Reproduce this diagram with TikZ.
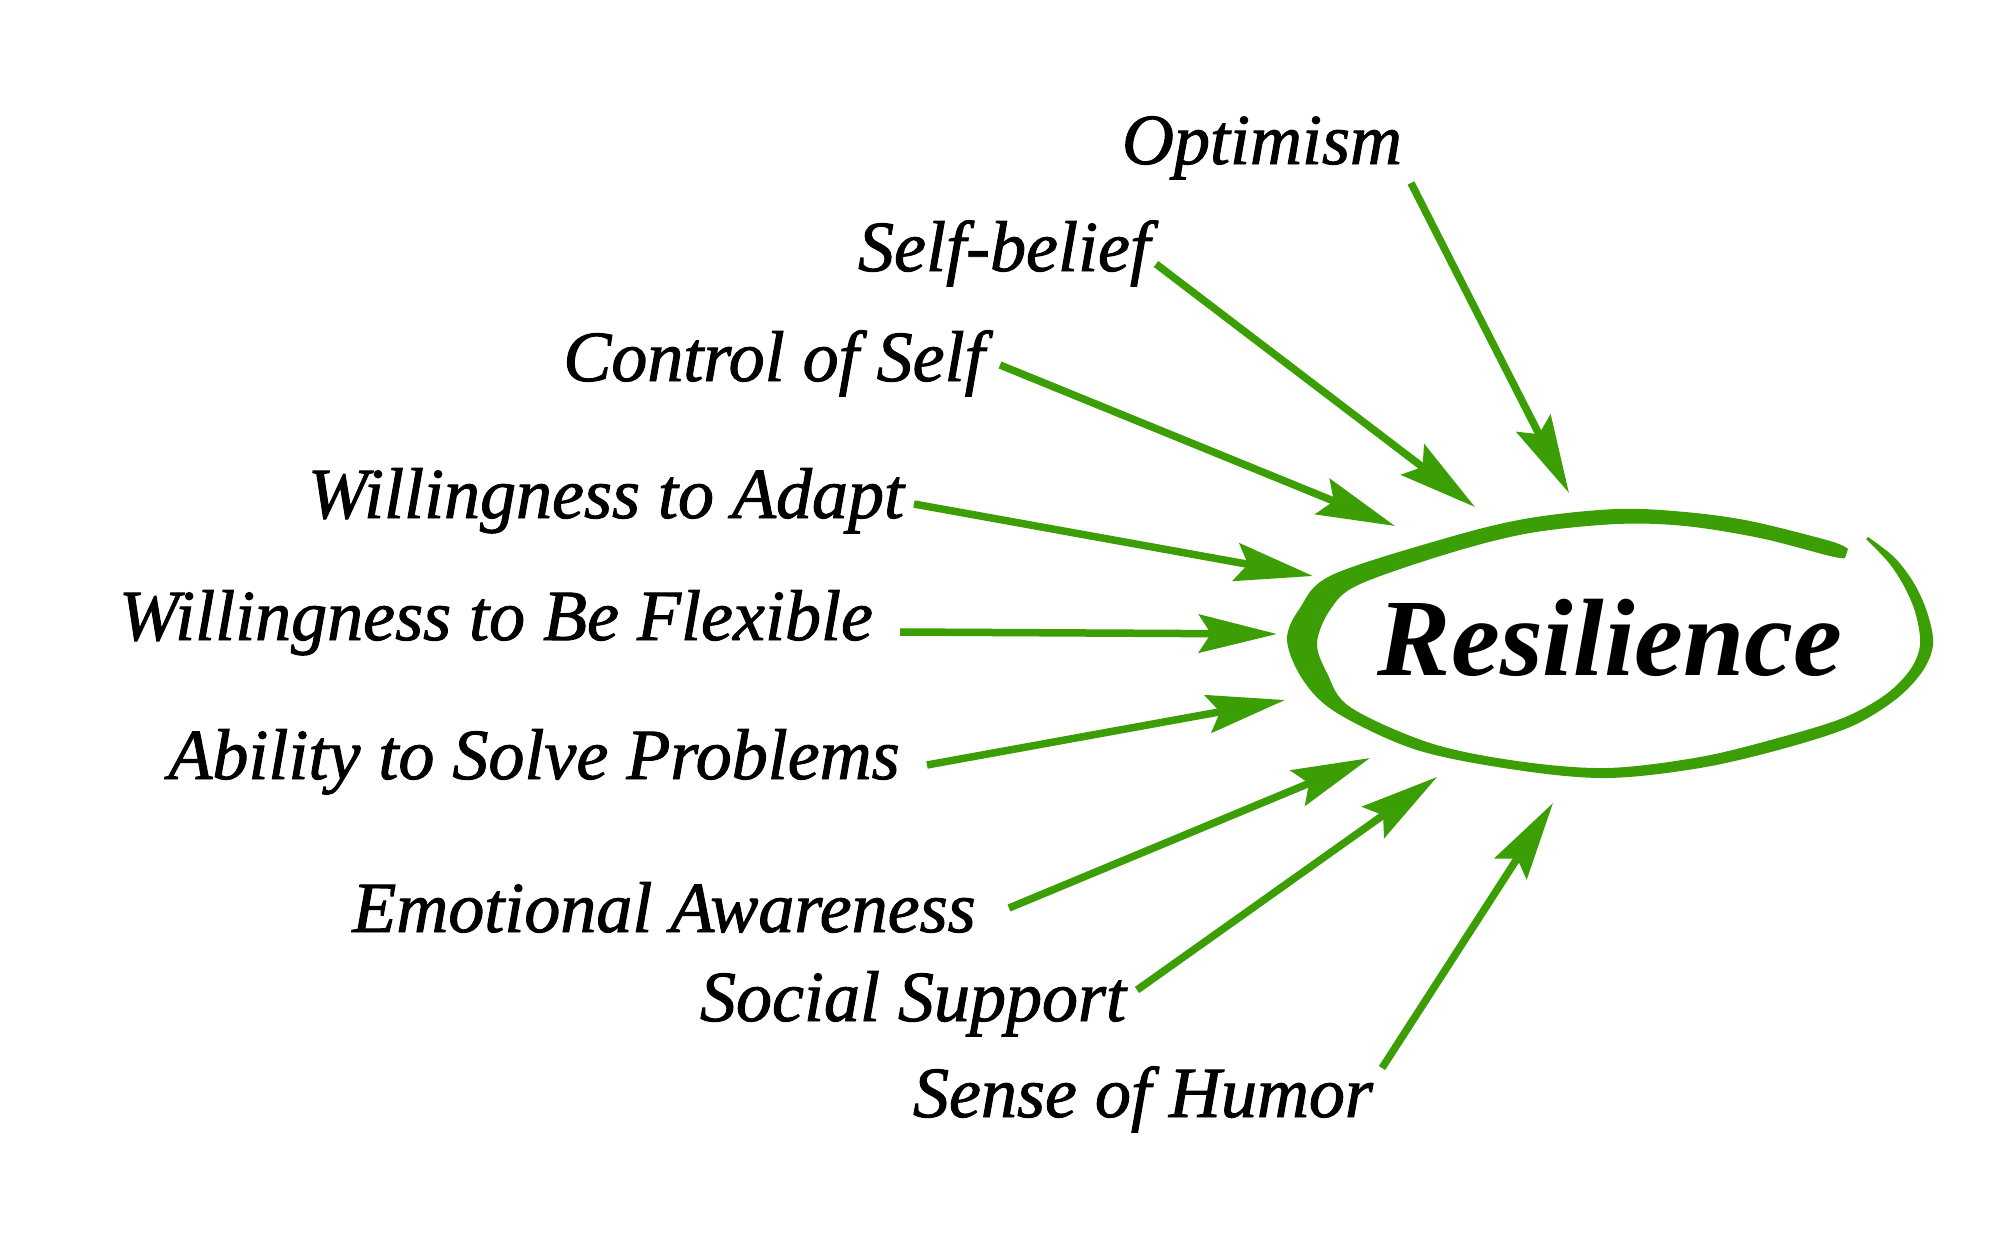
\documentclass[tikz,border=0pt]{standalone}
\usepackage{fontspec}
\usetikzlibrary{arrows.meta}
\newfontfamily\labfam{Liberation Serif}[ItalicFeatures={FakeBold=1.3}]
\newfontfamily\resfam{Liberation Serif}
\definecolor{arrgreen}{RGB}{59,158,4}
\begin{document}
\begin{tikzpicture}[x=1pt,y=-1pt,
  lbl/.style={anchor=base,inner sep=0pt,font=\labfam\itshape\fontsize{72}{80}\selectfont},
  conn/.style={draw=arrgreen,line width=7.5pt,-{Stealth[length=78pt,width=38pt,inset=12pt]}}]
\useasboundingbox[fill=white] (0,0) rectangle (2000,1248);

% hand-drawn ellipse
\fill[arrgreen] plot[smooth,tension=0.55] coordinates {(1848,549) (1830,541) (1750,521) (1685,512) (1617,509) (1530,518) (1450,537) (1332,575) (1300,608) (1287,640) (1303,680) (1337,713) (1417,750) (1517,770) (1607,778) (1700,768) (1782,749) (1850,727) (1895,700) (1922,672) (1933,645) (1928,615) (1915,585) (1895,558) (1868,537)}
  -- plot[smooth,tension=0.55] coordinates {(1866,539) (1889,563) (1905,588) (1916,615) (1920,645) (1910,670) (1885,695) (1843,718) (1778,738) (1700,757) (1607,768) (1517,761) (1430,743) (1350,707) (1327,673) (1317,643) (1330,610) (1358,585) (1450,553) (1530,533) (1617,524) (1685,526) (1760,538) (1830,556) (1845,558)} -- cycle;

\node[anchor=base,inner sep=0pt,font=\resfam\bfseries\itshape\fontsize{110}{120}\selectfont] (res) at (1610,675) {Resilience};

% labels
\node[lbl] (opt) at (1262,164) {Optimism};
\node[lbl] (sb)  at (1004,271) {Self-belief};
\node[lbl] (cos) at (774,381) {Control of Self};
\node[lbl] (wta) at (606,518) {Willingness to Adapt};
\node[lbl] (wbf) at (496,640) {Willingness to Be Flexible};
\node[lbl] (asp) at (534,779) {Ability to Solve Problems};
\node[lbl] (ema) at (664,932) {Emotional Awareness};
\node[lbl] (ssu) at (913,1021) {Social Support};
\node[lbl] (soh) at (1143,1117) {Sense of Humor};

% arrow end points
\coordinate (s1) at (1411,183); \coordinate (t1) at (1569,493);
\coordinate (s2) at (1156,264); \coordinate (t2) at (1475,507);
\coordinate (s3) at (1000,365); \coordinate (t3) at (1395,526);
\coordinate (s4) at (914,504);  \coordinate (t4) at (1313,576);
\coordinate (s5) at (900,632);  \coordinate (t5) at (1277,634);
\coordinate (s6) at (927,765);  \coordinate (t6) at (1285,700);
\coordinate (s7) at (1009,908); \coordinate (t7) at (1370,758);
\coordinate (s8) at (1137,990); \coordinate (t8) at (1437,777);
\coordinate (s9) at (1382,1068);\coordinate (t9) at (1553,803);

\foreach \i in {1,...,9} {\draw[conn] (s\i) -- (t\i);}
\end{tikzpicture}
\end{document}
